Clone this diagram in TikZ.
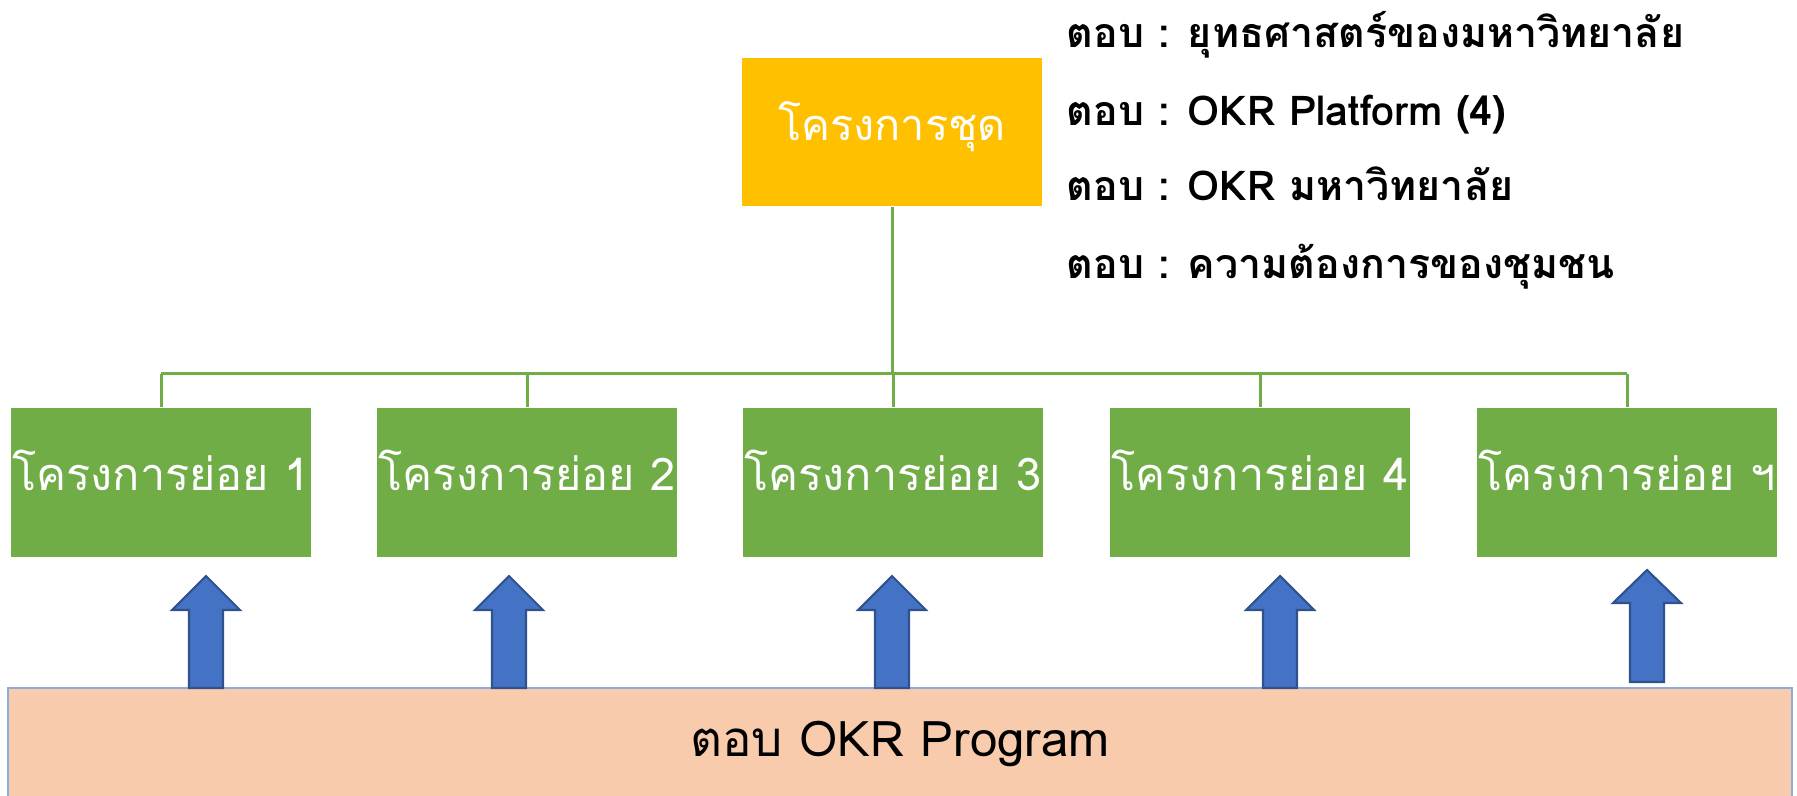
\documentclass[tikz,border=0pt]{standalone}
\usepackage{fontspec}
\setmainfont[Script=Thai]{Loma}
\usetikzlibrary{positioning}

\definecolor{okrorange}{HTML}{FFC000}
\definecolor{okrgreen}{HTML}{70AD47}
\definecolor{okrblue}{HTML}{4472C4}
\definecolor{okrblueline}{HTML}{2F528F}
\definecolor{okrpeach}{HTML}{F8CBAD}
\definecolor{okrpeachline}{HTML}{8FAADC}

\tikzset{
    setbox/.style={fill=okrorange, text=white, inner xsep=0pt, minimum width=30mm, minimum height=14.8mm, text height=3.8mm, text depth=2.2mm, font=\fontsize{12.3}{15}\selectfont},
    subbox/.style={fill=okrgreen, text=white, inner xsep=0pt, minimum width=30mm, minimum height=14.9mm, text height=3.8mm, text depth=2.2mm, font=\fontsize{12.8}{15}\selectfont},
    link/.style={okrgreen, line width=0.3mm},
    blockarrow/.style={fill=okrblue, draw=okrblueline, line width=0.6pt, line join=miter},
    answer/.style={anchor=base west, inner sep=0pt, font=\bfseries\fontsize{11.7}{14}\selectfont}
}

\begin{document}
\begin{tikzpicture}[x=0.1mm, y=0.1mm]

\useasboundingbox (0,0) rectangle (1797,795);

\node[setbox] (set) at (892,663) {โครงการชุด};

\node[subbox] (sub-1) at (161,313) {โครงการย่อย 1};
\node[subbox] (sub-2) at (527,313) {โครงการย่อย 2};
\node[subbox] (sub-3) at (893,313) {โครงการย่อย 3};
\node[subbox] (sub-4) at (1260,313) {โครงการย่อย 4};
\node[subbox] (sub-5) at (1627,313) {โครงการย่อย ฯ};

% bottom bar
\node[fill=okrpeach, draw=okrpeachline, line width=0.5pt, minimum width=178.4mm, minimum height=11mm, text height=4mm, text depth=1.4mm, font=\fontsize{14}{16}\selectfont] (okr) at (900,52) {ตอบ OKR Program};

% tree
\draw[link] (set.south) -- ++(0,-167) coordinate (bus);
\draw[link] (bus -| sub-1) -- (bus -| sub-5);
\draw[link] (bus -| sub-1) -- (sub-1.north);
\draw[link] (bus -| sub-2) -- (sub-2.north);
\draw[link] (bus -| sub-3) -- (sub-3.north);
\draw[link] (bus -| sub-4) -- (sub-4.north);
\draw[link] (bus -| sub-5) -- (sub-5.north);

% arrows
\draw[blockarrow] (189,107) -- ++(34,0) -- ++(0,78) -- ++(17,0) -- ++(-34,34) -- ++(-34,-34) -- ++(17,0) -- cycle;
\draw[blockarrow] (492,107) -- ++(34,0) -- ++(0,78) -- ++(17,0) -- ++(-34,34) -- ++(-34,-34) -- ++(17,0) -- cycle;
\draw[blockarrow] (875,107) -- ++(34,0) -- ++(0,78) -- ++(17,0) -- ++(-34,34) -- ++(-34,-34) -- ++(17,0) -- cycle;
\draw[blockarrow] (1263,107) -- ++(34,0) -- ++(0,78) -- ++(17,0) -- ++(-34,34) -- ++(-34,-34) -- ++(17,0) -- cycle;
\draw[blockarrow] (1630,113) -- ++(34,0) -- ++(0,79) -- ++(17,0) -- ++(-34,33) -- ++(-34,-33) -- ++(17,0) -- cycle;

% answers
\node[answer] (ans-1) at (1066,748) {ตอบ : ยุทธศาสตร์ของมหาวิทยาลัย};
\node[answer] (ans-2) at (1066,670) {ตอบ : OKR Platform (4)};
\node[answer] (ans-3) at (1066,595) {ตอบ : OKR มหาวิทยาลัย};
\node[answer] (ans-4) at (1066,517) {ตอบ : ความต้องการของชุมชน};

\end{tikzpicture}
\end{document}
